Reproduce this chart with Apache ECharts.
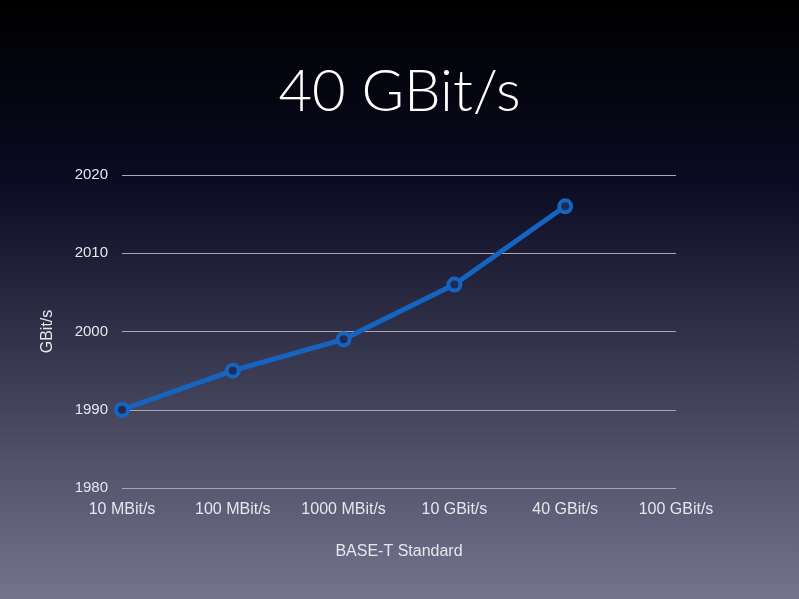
<!DOCTYPE html>
<html lang="en">
<head>
  <meta charset="UTF-8">
  <title>40 GBit/s</title>
  <style>
    html, body { margin: 0; padding: 0; }
    #main { width: 799px; height: 599px; }
  </style>
</head>
<body>
  <div id="main"></div>
  <script src="https://cdn.jsdelivr.net/npm/echarts@6/dist/echarts.min.js"></script>
  <script>
    var categories = ['10 MBit/s', '100 MBit/s', '1000 MBit/s', '10 GBit/s', '40 GBit/s', '100 GBit/s'];
    var years = [1990, 1995, 1999, 2006, 2016, null];

    var myChart = echarts.init(document.getElementById('main'));
    var option = {
      backgroundColor: new echarts.graphic.LinearGradient(0, 0, 0, 1, [
        { offset: 0, color: '#000000' },
        { offset: 0.3, color: '#0a0a22' },
        { offset: 1, color: '#74748e' }
      ]),
      title: {
        text: '40 GBit/s',
        left: 'center',
        top: 58,
        textStyle: { color: '#ffffff', fontSize: 58, fontWeight: 300, fontFamily: 'Lato' }
      },
      grid: { left: 122, right: 123, top: 175, bottom: 111 },
      xAxis: {
        type: 'category',
        data: categories,
        boundaryGap: false,
        name: 'BASE-T Standard',
        nameLocation: 'middle',
        nameGap: 56,
        nameTextStyle: { color: '#e6e6ee', fontSize: 16, fontFamily: 'Liberation Sans' },
        axisLine: { show: false },
        axisTick: { show: false },
        axisLabel: { interval: 0, color: '#e6e6ee', fontSize: 16, fontFamily: 'Liberation Sans', margin: 14 }
      },
      yAxis: {
        type: 'value',
        min: 1980,
        max: 2020,
        interval: 10,
        name: 'GBit/s',
        nameLocation: 'middle',
        nameGap: 66,
        nameTextStyle: { color: '#e6e6ee', fontSize: 16, fontFamily: 'Liberation Sans' },
        axisLabel: { formatter: function (v) { return String(v); }, color: '#e6e6ee', fontSize: 15, fontFamily: 'Liberation Sans', margin: 14 },
        splitLine: { lineStyle: { color: '#a8a8b4', width: 1 } }
      },
      series: [{
        type: 'line',
        data: years,
        symbol: 'circle',
        symbolSize: 12,
        lineStyle: { color: '#1565c0', width: 5 },
        itemStyle: { color: '#1f2a55', borderColor: '#1565c0', borderWidth: 4 },
        animation: false
      }]
    };
    myChart.setOption(option);
  </script>
</body>
</html>
